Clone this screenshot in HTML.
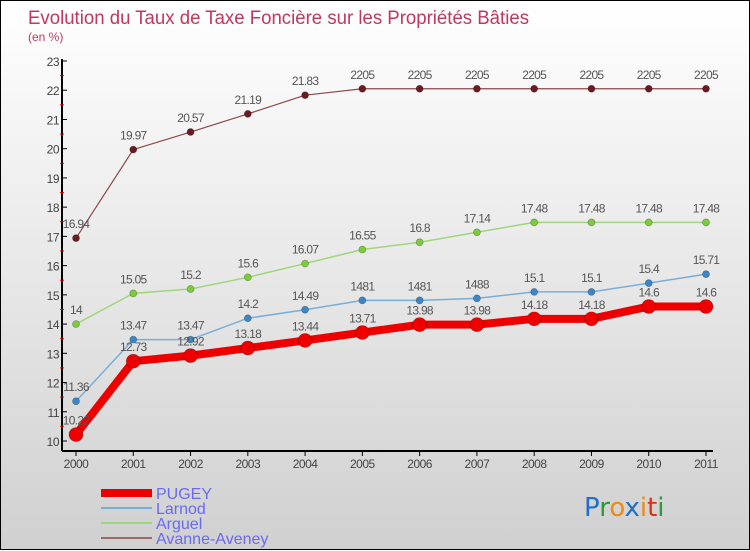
<!DOCTYPE html>
<html><head><meta charset="utf-8">
<style>
html,body{margin:0;padding:0}
body{width:750px;height:550px;overflow:hidden;font-family:"Liberation Sans",sans-serif}
#wrap{position:relative;width:748px;height:548px;border:1px solid #000;background:linear-gradient(#ffffff,#d0d0d0)}
svg{position:absolute;left:0;top:0}
</style></head><body>
<div id="wrap">
<svg id="chart" width="750" height="550"></svg>
</div>
<script>
const years=[2000,2001,2002,2003,2004,2005,2006,2007,2008,2009,2010,2011];
const pugey=[10.22,12.73,12.92,13.18,13.44,13.71,13.98,13.98,14.18,14.18,14.6,14.6];
const larnod=[11.36,13.47,13.47,14.2,14.49,14.81,14.81,14.88,15.1,15.1,15.4,15.71];
const arguel=[14,15.05,15.2,15.6,16.07,16.55,16.8,17.14,17.48,17.48,17.48,17.48];
const avanne=[16.94,19.97,20.57,21.19,21.83,22.05,22.05,22.05,22.05,22.05,22.05,22.05];
const yTicks=[10,11,12,13,14,15,16,17,18,19,20,21,22,23];
const pugeyLabels=["10.22","12.73","12.92","13.18","13.44","13.71","13.98","13.98","14.18","14.18","14.6","14.6"];
const larnodLabels=["11.36","13.47","13.47","14.2","14.49","1481","1481","1488","15.1","15.1","15.4","15.71"];
const arguelLabels=["14","15.05","15.2","15.6","16.07","16.55","16.8","17.14","17.48","17.48","17.48","17.48"];
const avanneLabels=["16.94","19.97","20.57","21.19","21.83","2205","2205","2205","2205","2205","2205","2205"];

const NS="http://www.w3.org/2000/svg";
const svg=document.getElementById('chart');
function X(i){return 75+i*(705-75)/11;}
function Y(v){return 440-(v-10)*(380/13);}
function el(t,a,p){const e=document.createElementNS(NS,t);for(const k in a)e.setAttribute(k,a[k]);(p||svg).appendChild(e);return e;}

let t=el('text',{x:27,y:23,'font-size':19,fill:'#c0385e',textLength:501,lengthAdjust:'spacingAndGlyphs'});t.textContent='Evolution du Taux de Taxe Foncière sur les Propriétés Bâties';


t=el('text',{x:27,y:40,'font-size':12,fill:'#c0385e'});t.textContent='(en %)';



let a=el('line',{x1:61,y1:58,x2:61,y2:450,stroke:'#000','stroke-width':2});


a=el('line',{x1:61,y1:450,x2:712,y2:450,stroke:'#000','stroke-width':2});


yTicks.forEach((v,i)=>{
  el('line',{x1:61,y1:Y(v),x2:66,y2:Y(v),stroke:'#000','stroke-width':1});
  if(i<yTicks.length-1) el('line',{x1:59,y1:Y(v+0.5),x2:63,y2:Y(v+0.5),stroke:'#e00','stroke-width':1});
  const tx=el('text',{x:58,y:Y(v)+5,'font-size':12,fill:'#444','text-anchor':'end','letter-spacing':'-0.5'});tx.textContent=v;
  
  
});
years.forEach((yr,i)=>{
  el('line',{x1:X(i),y1:450,x2:X(i),y2:455,stroke:'#000','stroke-width':1});
  const tx=el('text',{x:X(i),y:467,'font-size':12,fill:'#444','text-anchor':'middle','letter-spacing':'-0.5'});tx.textContent=yr;
  
  
});

function series(vals,labels,color,lw,r,dot,name){
  const g=el('g',{});
  
  
  const pts=vals.map((v,i)=>X(i)+','+Y(v)).join(' ');
  el('polyline',{points:pts,fill:'none',stroke:color,'stroke-width':lw,'stroke-linejoin':'round'},g);
  vals.forEach((v,i)=>{
    const c=el('circle',{cx:X(i),cy:Y(v),r:r,fill:dot,stroke:'rgba(0,0,0,0.3)','stroke-width':0.7},g);
    
    
    const tx=el('text',{x:X(i),y:Y(v)-10,'font-size':12,fill:'#555','text-anchor':'middle','letter-spacing':'-0.7'},g);tx.textContent=labels[i];
    
    
  });
}
series(avanne,avanneLabels,'#8c4a4a',1.2,3.5,'#6b1a22','avanne');
series(arguel,arguelLabels,'#9fd67a',1.5,3.5,'#7acc3a','arguel');
series(larnod,larnodLabels,'#7aaed6',1.5,3.5,'#3a86c8','larnod');
series(pugey,pugeyLabels,'#ee0000',8,7,'#ee0000','pugey');

const leg=[['PUGEY','#ee0000',8],['Larnod','#7aaed6',2],['Arguel','#9fd67a',2],['Avanne-Aveney','#9a6a6a',2]];
leg.forEach((l,i)=>{
  const y=492+i*15;
  const g=el('g',{});
  
  
  el('line',{x1:100,y1:y,x2:151,y2:y,stroke:l[1],'stroke-width':l[2]},g);
  const tx=el('text',{x:155,y:y+6,'font-size':16,fill:'#6a6af0'},g);tx.textContent=l[0];
});

const logo=el('text',{x:583,y:515,'font-size':26,'font-family':'"DejaVu Sans",sans-serif'});


[['P','#1f6fc9'],['r','#2a9a3a'],['o','#f08a10'],['x','#1f6fc9'],['i','#f08a10'],['t','#e03010'],['i','#2a9a3a']].forEach(c=>{
  const s=el('tspan',{fill:c[1]},logo);s.textContent=c[0];
});
</script>
</body></html>
